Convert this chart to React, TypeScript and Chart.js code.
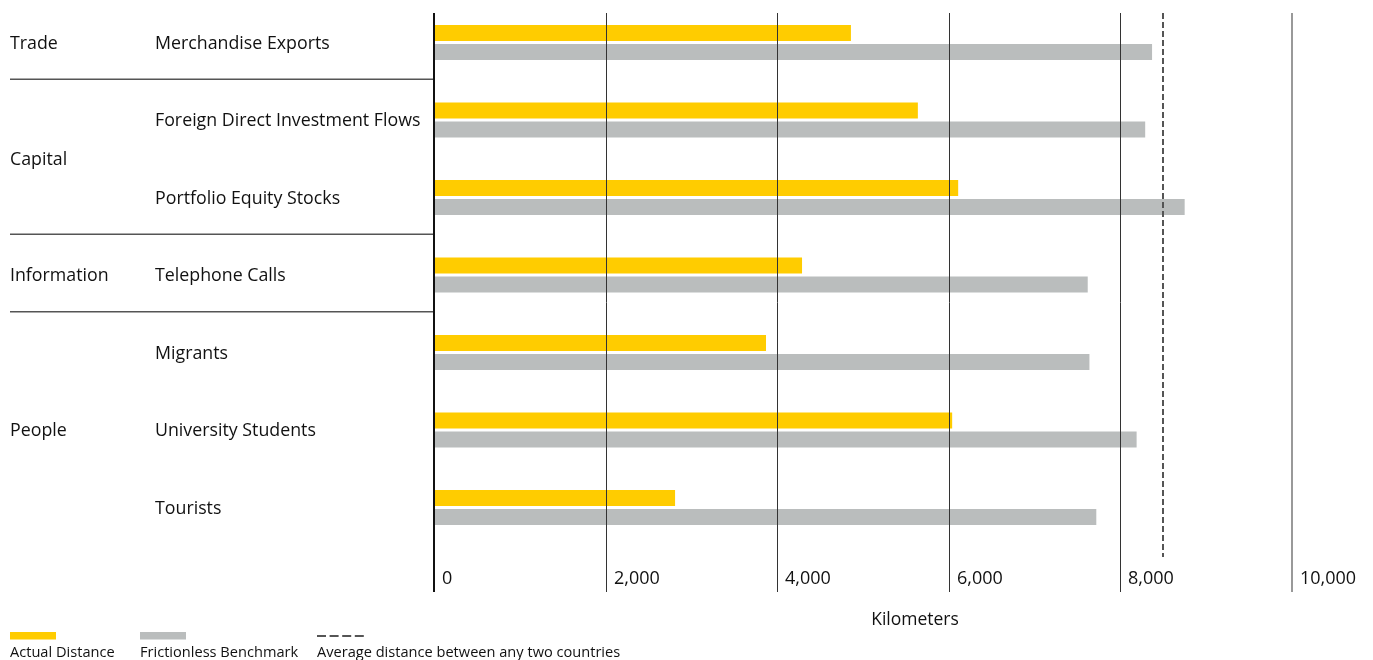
import { useEffect, useRef } from 'react';
import { Chart, registerables } from 'chart.js';

Chart.register(...registerables);

const categories = [
  'Merchandise Exports',
  'Foreign Direct Investment Flows',
  'Portfolio Equity Stocks',
  'Telephone Calls',
  'Migrants',
  'University Students',
  'Tourists',
];
const groupNames = ['Trade', 'Capital', 'Information', 'People'];
const groupStart = [0, 1, 3, 4];
const groupEnd = [0, 2, 3, 6];
const actualDistance = [4860, 5640, 6110, 4290, 3870, 6040, 2810];
const frictionlessBenchmark = [8370, 8290, 8750, 7620, 7640, 8190, 7720];
const averageDistance = 8500;
const xTicks = [0, 2000, 4000, 6000, 8000, 10000];
const xTickLabels = ['0', '2,000', '4,000', '6,000', '8,000', '10,000'];
const axisTitle = 'Kilometers';
const legendLabels = ['Actual Distance', 'Frictionless Benchmark', 'Average distance between any two countries'];

const YELLOW = '#FFCC00';
const GRAY = '#BABDBD';
const TEXT = '#111';
const FONT = '"Open Sans", sans-serif';

const overlayPlugin = {
  id: 'overlay',
  afterDatasetsDraw(chart: any) {
    const ctx = chart.ctx as CanvasRenderingContext2D;
    const xs = chart.scales.x;
    const ys = chart.scales.y;
    ctx.save();

    const gridTop = 13;
    const gridBottom = 592;

    // vertical gridlines and tick labels
    xTicks.forEach((v, i) => {
      const px = xs.getPixelForValue(v);
      let lw = 1;
      let col = '#333';
      if (i === 0) {
        lw = 2;
        col = '#111';
      } else if (i === xTicks.length - 1) {
        lw = 1.5;
        col = '#777';
      }
      const x = lw === 1 ? Math.round(px) + 0.5 : Math.round(px);
      ctx.beginPath();
      ctx.strokeStyle = col;
      ctx.lineWidth = lw;
      ctx.moveTo(x, gridTop);
      ctx.lineTo(x, gridBottom);
      ctx.stroke();

      ctx.fillStyle = TEXT;
      ctx.font = `18px ${FONT}`;
      ctx.textAlign = 'left';
      ctx.textBaseline = 'alphabetic';
      ctx.fillText(xTickLabels[i], Math.round(px) + 8, 584);
    });

    // dashed average line
    const dx = xs.getPixelForValue(averageDistance);
    ctx.beginPath();
    ctx.setLineDash([6, 3]);
    ctx.strokeStyle = '#555';
    ctx.lineWidth = 2;
    ctx.moveTo(Math.round(dx), 13);
    ctx.lineTo(Math.round(dx), 557);
    ctx.stroke();
    ctx.setLineDash([]);

    // left labels
    ctx.fillStyle = TEXT;
    ctx.font = `17.8px ${FONT}`;
    ctx.textAlign = 'left';
    ctx.textBaseline = 'alphabetic';
    categories.forEach((c, i) => {
      const y = ys.getPixelForValue(i);
      ctx.fillText(c, 155, y + 6);
    });
    groupNames.forEach((g, i) => {
      const y = (ys.getPixelForValue(groupStart[i]) + ys.getPixelForValue(groupEnd[i])) / 2;
      ctx.fillText(g, 10, y + 6);
    });

    // separators between groups
    ctx.strokeStyle = '#555';
    ctx.lineWidth = 1.5;
    for (let i = 0; i < groupNames.length - 1; i++) {
      const y = (ys.getPixelForValue(groupEnd[i]) + ys.getPixelForValue(groupStart[i + 1])) / 2 - 2;
      ctx.beginPath();
      ctx.moveTo(10, y);
      ctx.lineTo(433, y);
      ctx.stroke();
    }

    // axis title
    ctx.font = `17.5px ${FONT}`;
    ctx.textAlign = 'center';
    ctx.fillText(axisTitle, 915, 625);

    // legend
    ctx.textAlign = 'left';
    ctx.font = `14.6px ${FONT}`;
    ctx.fillStyle = YELLOW;
    ctx.fillRect(10, 632, 46, 7.5);
    ctx.fillStyle = GRAY;
    ctx.fillRect(140, 632, 46, 7.5);
    ctx.beginPath();
    ctx.strokeStyle = '#555';
    ctx.lineWidth = 2;
    ctx.setLineDash([9, 3.6]);
    ctx.moveTo(317, 636);
    ctx.lineTo(364, 636);
    ctx.stroke();
    ctx.setLineDash([]);
    ctx.fillStyle = TEXT;
    ctx.fillText(legendLabels[0], 10, 657);
    ctx.fillText(legendLabels[1], 140, 657);
    ctx.fillText(legendLabels[2], 317, 657);

    ctx.restore();
  },
};

export default function App() {
  const ref = useRef<HTMLCanvasElement>(null);
  useEffect(() => {
    const chart = new Chart(ref.current!, {
      type: 'bar',
      data: {
        labels: categories,
        datasets: [
          {
            label: legendLabels[0],
            data: actualDistance,
            backgroundColor: YELLOW,
            borderWidth: 0,
            categoryPercentage: 0.4903,
            barPercentage: 0.8421,
          },
          {
            label: legendLabels[1],
            data: frictionlessBenchmark,
            backgroundColor: GRAY,
            borderWidth: 0,
            categoryPercentage: 0.4903,
            barPercentage: 0.8421,
          },
        ],
      },
      options: {
        indexAxis: 'y',
        animation: false,
        responsive: false,
        devicePixelRatio: 1,
        layout: {
          padding: { left: 434, right: 81.1, top: 3.75, bottom: 113.75 },
        },
        scales: {
          x: { display: false, min: 0, max: 10000 },
          y: { display: false },
        },
        plugins: {
          legend: { display: false },
          tooltip: { enabled: false },
        },
      },
      plugins: [overlayPlugin],
    } as any);
    return () => chart.destroy();
  }, []);
  return (
    <div style={{ position: 'absolute', left: 0, top: 0, width: 1373, height: 660, background: '#fff' }}>
      <canvas ref={ref} width={1373} height={660} style={{ display: 'block' }} />
    </div>
  );
}
